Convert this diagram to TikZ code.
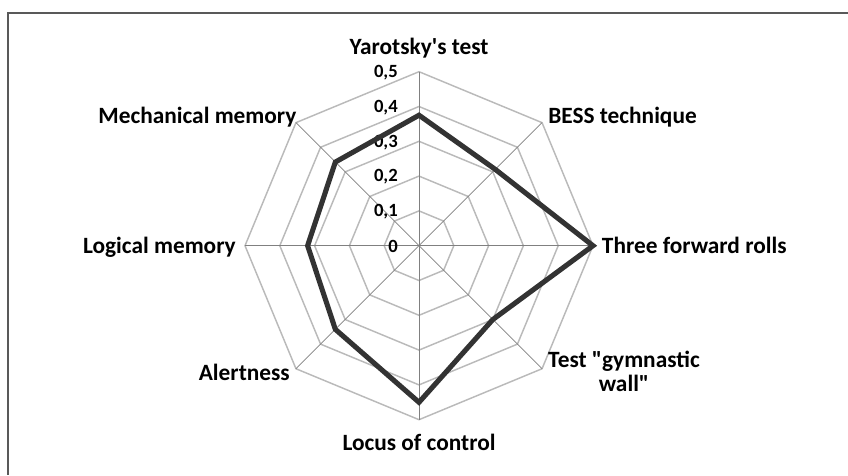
\documentclass[tikz,border=0pt]{standalone}
\usepackage{fontspec}
\setmainfont{Carlito}[Ligatures=TeXOff]
\usetikzlibrary{positioning}

\begin{document}
\begin{tikzpicture}[x=0.75pt, y=0.75pt,
  ring/.style={draw=black!27, line width=1.1pt},
  spoke/.style={draw=black!50, line width=0.5pt},
  series/.style={draw=black!80, line width=3.8pt, line join=miter},
  axislabel/.style={font=\bfseries\fontsize{17.5}{17.5}\selectfont, inner sep=0pt, align=center},
  ticklabel/.style={font=\bfseries\fontsize{14}{14}\selectfont, anchor=east, inner sep=0pt}]
\useasboundingbox (0,0) rectangle (848,475);
\draw[black!65, line width=1.2pt] (848,462) -- (8,462) -- (8,0);
\coordinate (c) at (419,229.3);
\begin{scope}[shift={(c)}]
% grid rings and spokes
\foreach \k in {1,...,5}
  \draw[ring] (0:34.8*\k) \foreach \a in {45,90,...,315} {-- (\a:34.8*\k)} -- cycle;
\foreach \a in {0,45,...,315}
  \draw[spoke] (0,0) -- (\a:174);
% tick labels
\node[ticklabel] (t0) at (-21,-1) {0};
\foreach \k in {1,...,5}
  \node[ticklabel] (t\k) at (-21,34.8*\k-1) {0,\k};
% data
\draw[series] (90:130.5) -- (45:107.9) -- (0:174) -- (-45:104.4) -- (-90:156.6)
  -- (-135:118.3) -- (180:111.4) -- (135:118.3) -- cycle;
\end{scope}
% axis labels
\node[axislabel, anchor=base] (yar) at (419,420) {Yarotsky's test};
\node[axislabel, anchor=base west] (bess) at (548,351) {BESS technique};
\node[axislabel, anchor=base west] (rolls) at (601.7,221.7) {Three forward rolls};
\node[axislabel, anchor=north] (wall) at (624,124) {Test "gymnastic\\wall"};
\node[axislabel, anchor=base] (locus) at (419,25) {Locus of control};
\node[axislabel, anchor=base east] (alert) at (290,95) {Alertness};
\node[axislabel, anchor=base east] (logic) at (236,222) {Logical memory};
\node[axislabel, anchor=base east] (mech) at (296.7,351) {Mechanical memory};
\end{tikzpicture}
\end{document}
